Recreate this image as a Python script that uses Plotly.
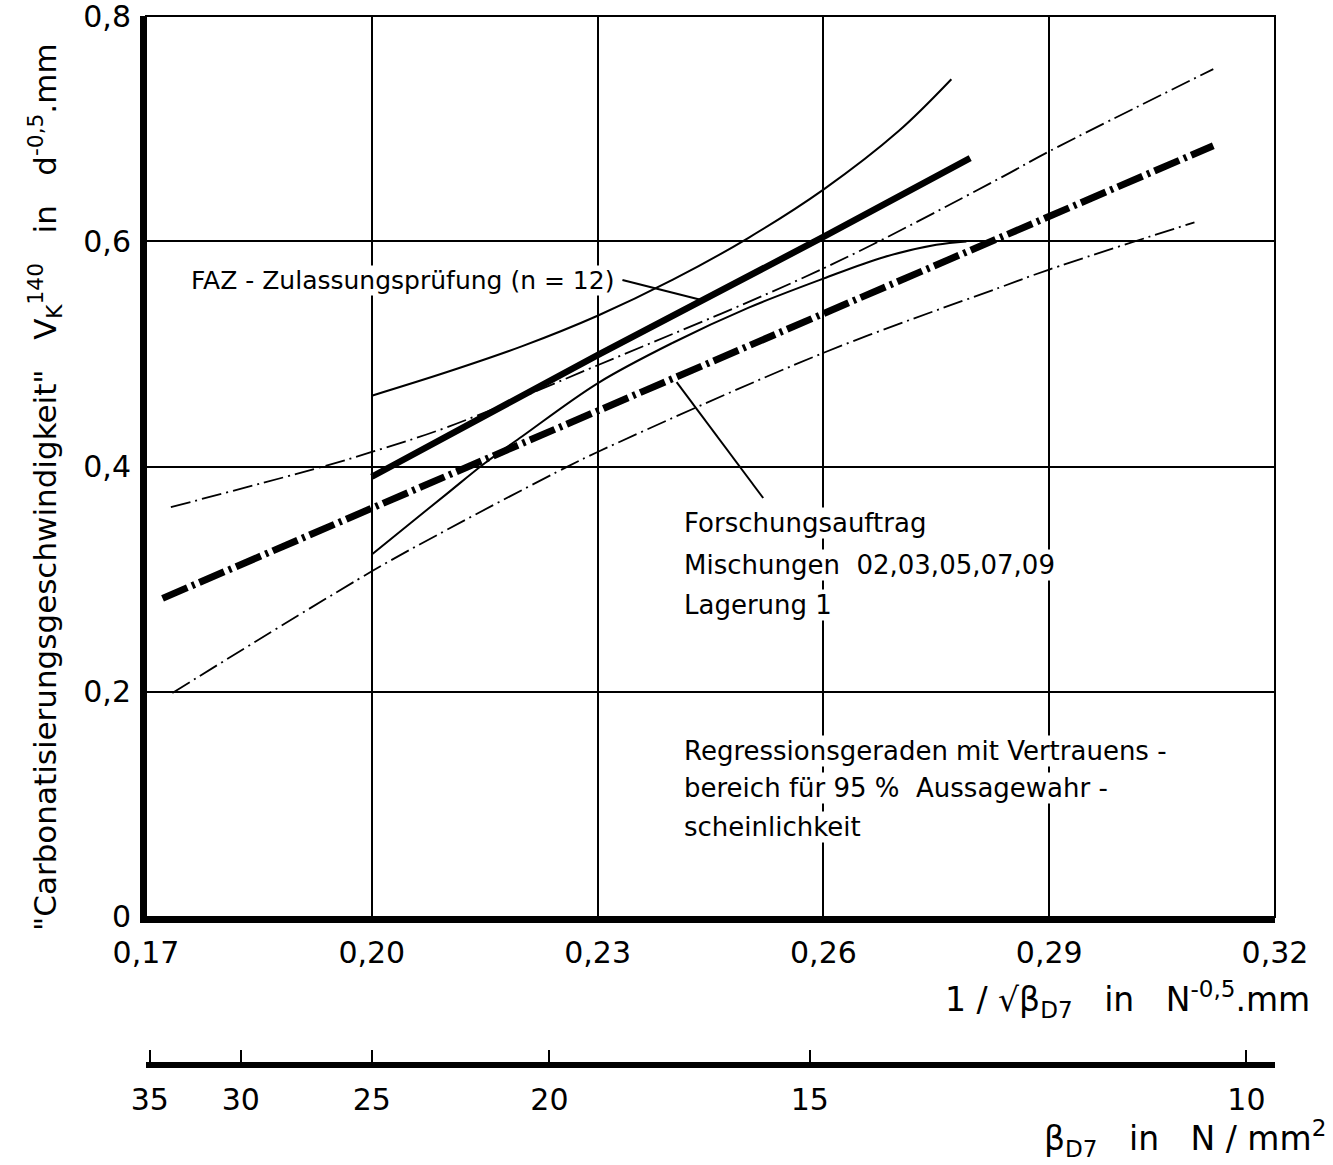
import plotly.graph_objects as go

# ---------------- data ----------------
# FAZ-Zulassungsprüfung (n=12): regression line and 95% band (solid)
faz_reg_x = [0.200, 0.230, 0.260, 0.2795]
faz_reg_y = [0.391, 0.499, 0.604, 0.674]

faz_up_x = [0.200, 0.210, 0.220, 0.230, 0.240, 0.250, 0.260, 0.270, 0.277]
faz_up_y = [0.463, 0.484, 0.507, 0.534, 0.566, 0.603, 0.646, 0.698, 0.744]

faz_lo_x = [0.200, 0.205, 0.210, 0.215, 0.220, 0.230, 0.240, 0.250, 0.260, 0.268, 0.275, 0.279]
faz_lo_y = [0.322, 0.349, 0.376, 0.403, 0.427, 0.474, 0.510, 0.541, 0.567, 0.586, 0.597, 0.600]

# Forschungsauftrag: regression line and 95% band (dash-dot)
fa_reg_x = [0.1722, 0.3118]
fa_reg_y = [0.283, 0.685]

fa_up_x = [0.1733, 0.1935, 0.200, 0.210, 0.230, 0.260, 0.2834, 0.290, 0.3118]
fa_up_y = [0.364, 0.400, 0.413, 0.435, 0.490, 0.576, 0.656, 0.680, 0.753]

fa_lo_x = [0.1735, 0.200, 0.210, 0.226, 0.230, 0.260, 0.2834, 0.290, 0.3093]
fa_lo_y = [0.199, 0.307, 0.344, 0.400, 0.413, 0.501, 0.559, 0.575, 0.617]

# axes
x_ticks = [0.17, 0.20, 0.23, 0.26, 0.29, 0.32]
x_tick_labels = ["0,17", "0,20", "0,23", "0,26", "0,29", "0,32"]
y_ticks = [0, 0.2, 0.4, 0.6, 0.8]
y_tick_labels = ["0", "0,2", "0,4", "0,6", "0,8"]
beta_labels = ["35", "30", "25", "20", "15", "10"]
beta_tick_pos = [0.1705, 0.1826, 0.200, 0.2236, 0.2582, 0.3162]

# ---------------- figure ----------------
BLK = "black"
FAM = "DejaVu Sans, sans-serif"
TICKFONT = dict(family=FAM, size=30, color=BLK)
TXTFONT = dict(family=FAM, size=26, color=BLK)

fig = go.Figure()

def add(x, y, width, dash="solid", spline=False):
    fig.add_trace(go.Scatter(
        x=x, y=y, mode="lines",
        line=dict(color=BLK, width=width, dash=dash, shape="spline" if spline else "linear", smoothing=1.0),
        showlegend=False, hoverinfo="skip"))

thin_dd = "20px,5px,2px,5px"
thick_dd = "27px,5px,3px,5px"

add(fa_up_x, fa_up_y, 1.8, thin_dd, True)
add(fa_lo_x, fa_lo_y, 1.8, thin_dd, True)
add(fa_reg_x, fa_reg_y, 7, thick_dd)
add(faz_up_x, faz_up_y, 2, "solid", True)
add(faz_lo_x, faz_lo_y, 2, "solid", True)
add(faz_reg_x, faz_reg_y, 6.5, "solid")

# helper trace for the secondary (beta) axis
fig.add_trace(go.Scatter(x=beta_tick_pos, y=[None] * len(beta_tick_pos), xaxis="x2",
                         mode="lines", showlegend=False, hoverinfo="skip"))

fig.update_layout(
    width=1333, height=1165,
    margin=dict(l=146, r=58, t=16, b=100, autoexpand=False),
    paper_bgcolor="white", plot_bgcolor="white",
    showlegend=False,
    xaxis=dict(range=[0.17, 0.32], tickvals=x_ticks, ticktext=x_tick_labels,
               showgrid=True, gridcolor=BLK, gridwidth=1.5,
               showline=True, linecolor=BLK, linewidth=6, ticks="",
               tickfont=TICKFONT, ticklabelstandoff=4, zeroline=False,
               ticklabeloverflow="allow", automargin=False, anchor="y"),
    yaxis=dict(range=[0, 0.8002], domain=[0.1411, 1], tickvals=y_ticks, ticktext=y_tick_labels,
               showgrid=True, gridcolor=BLK, gridwidth=1.5,
               showline=True, linecolor=BLK, linewidth=6, ticks="",
               tickfont=TICKFONT, ticklabelstandoff=3, zeroline=False,
               ticklabeloverflow="allow", automargin=False),
    xaxis2=dict(range=[0.17, 0.32], overlaying="x", anchor="free", position=0, side="bottom",
                tickvals=beta_tick_pos, ticktext=beta_labels,
                ticks="inside", ticklen=12, tickwidth=2, tickcolor=BLK,
                showline=True, linecolor=BLK, linewidth=6, showgrid=False, zeroline=False,
                tickfont=TICKFONT, ticklabelstandoff=6, ticklabeloverflow="allow",
                automargin=False),
)

# thin border (top / right)
fig.add_shape(type="rect", xref="x domain", yref="y domain", x0=0, x1=1, y0=0, y1=1,
              line=dict(color=BLK, width=2), layer="below")

# leader lines
fig.add_shape(type="line", xref="x", yref="y", x0=0.2333, y0=0.5657, x1=0.2438, y1=0.548,
              line=dict(color=BLK, width=2))
fig.add_shape(type="line", xref="x", yref="y", x0=0.2405, y0=0.4751, x1=0.2520, y1=0.3721,
              line=dict(color=BLK, width=2))

NB = "\u00a0"
texts = [
    ("FAZ - Zulassungsprüfung (n = 12)", 0.1759, 0.5657, 25),
    ("Forschungsauftrag", 0.2414, 0.3499, 26),
    ("Mischungen" + NB * 2 + "02,03,05,07,09", 0.2414, 0.3126, 26),
    ("Lagerung 1", 0.2414, 0.2771, 26),
    ("Regressionsgeraden mit Vertrauens -", 0.2414, 0.1474, 26),
    ("bereich für 95 %" + NB * 2 + "Aussagewahr -", 0.2414, 0.1146, 26),
    ("scheinlichkeit", 0.2414, 0.0799, 26),
]
for t, x, y, s in texts:
    fig.add_annotation(text=t, x=x, y=y, xref="x", yref="y", xanchor="left", yanchor="middle",
                       showarrow=False, font=dict(family=FAM, size=s, color=BLK),
                       bgcolor="white", borderpad=0)

# axis titles
fig.add_annotation(text="1 / √β<sub>D7</sub>" + NB * 3 + "in" + NB * 3 + "N<sup>-0,5</sup>.mm",
                   xref="paper", yref="paper", x=1.0328, y=0.062, xanchor="right", yanchor="middle",
                   showarrow=False, font=dict(family=FAM, size=33, color=BLK))
fig.add_annotation(text="β<sub>D7</sub>" + NB * 3 + "in" + NB * 3 + "N / mm<sup>2</sup>",
                   xref="paper", yref="paper", x=1.0469, y=-0.0696, xanchor="right", yanchor="middle",
                   showarrow=False, font=dict(family=FAM, size=33, color=BLK))
fig.add_annotation(text="\"Carbonatisierungsgeschwindigkeit\"" + NB * 3 + "V<sub>K</sub><sup>140</sup>"
                        + NB * 3 + "in" + NB * 3 + "d<sup>-0,5</sup>.mm",
                   xref="paper", yref="paper", x=-0.0895, y=0.551, xanchor="center", yanchor="middle",
                   textangle=-90, showarrow=False, font=dict(family=FAM, size=31, color=BLK))

fig.write_html("out.html")
